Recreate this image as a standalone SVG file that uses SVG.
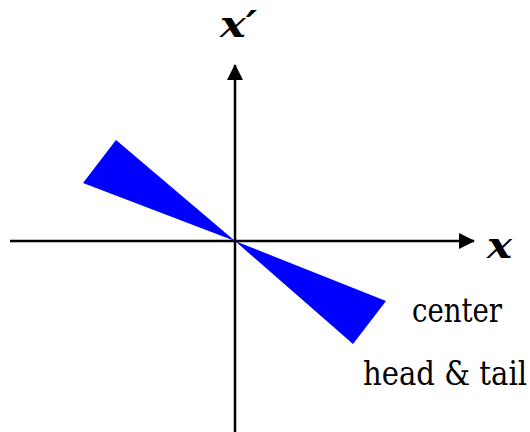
<svg xmlns="http://www.w3.org/2000/svg" width="530" height="432" viewBox="0 0 530 432">
<style>
.axis{stroke:#000;stroke-width:2.5;fill:none}
.tri{fill:#0000ff;stroke:none}
text{font-family:'DejaVu Serif Condensed','DejaVu Serif',serif;fill:#000}
.lbl{font-style:italic;font-weight:bold;font-size:37px}
.txt{font-size:33px}
</style>
<defs>
<marker id="arr" viewBox="0 0 16 16" refX="15" refY="8" markerWidth="16" markerHeight="16" markerUnits="userSpaceOnUse" orient="auto">
<path d="M0,0 L16,8 L0,16 Z" fill="#000"/>
</marker>
</defs>
<g id="connectors">
<line class="axis" x1="10" y1="241" x2="474" y2="241" marker-end="url(#arr)"/>
<line class="axis" x1="235" y1="432" x2="235" y2="65" marker-end="url(#arr)"/>
</g>
<g id="left-wedge"><polygon class="tri" points="116,140 83,183 235,241"/></g>
<g id="right-wedge"><polygon class="tri" points="386,301 353,344 235,241"/></g>
<g id="label-xprime"><text class="lbl" x="220" y="37" textLength="37" lengthAdjust="spacingAndGlyphs">x′</text></g>
<g id="label-x"><text class="lbl" x="487" y="258" textLength="25" lengthAdjust="spacingAndGlyphs">x</text></g>
<g id="label-center"><text class="txt" x="412" y="322" textLength="90" lengthAdjust="spacingAndGlyphs">center</text></g>
<g id="label-headtail"><text class="txt" x="363" y="385" textLength="164" lengthAdjust="spacingAndGlyphs">head &amp; tail</text></g>
</svg>
